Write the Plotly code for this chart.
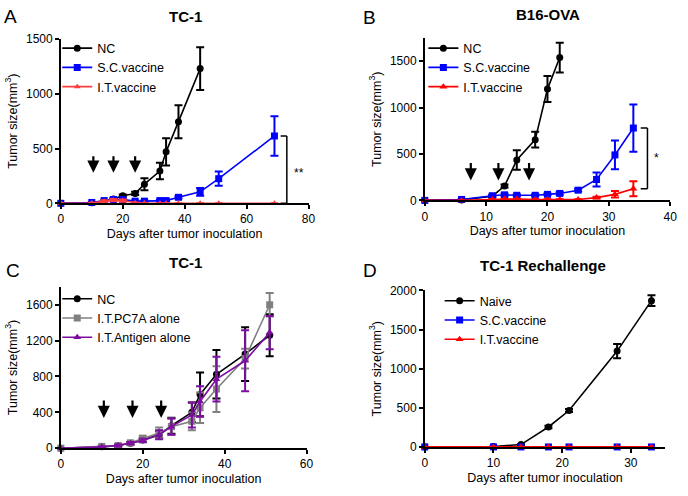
import plotly.graph_objects as go
from plotly.subplots import make_subplots

# ──────────────────────────────────────────────
# Data
# ──────────────────────────────────────────────
# Panel A: TC-1
a_nc_days = [0, 10, 14, 17, 20, 24, 27, 32, 34, 38, 45]
a_nc_vals = [0, 5, 20, 40, 70, 90, 175, 295, 470, 745, 1230]
a_nc_err = [0, 0, 5, 10, 10, 15, 55, 75, 125, 150, 195]
a_days = [0, 10, 14, 17, 20, 24, 27, 32, 34, 38, 45, 51, 69]
a_sc_vals = [0, 8, 25, 35, 35, 20, 20, 25, 25, 55, 105, 225, 615]
a_sc_err = [0, 3, 8, 10, 10, 5, 5, 5, 8, 12, 35, 65, 180]
a_it_vals = [0, 3, 20, 30, 25, 5, 2, 0, 0, 0, 0, 0, 0]
a_it_err = [0, 2, 8, 10, 10, 3, 1, 0, 0, 0, 0, 0, 0]
a_arrow_days = [10.5, 17, 24]

# Panel B: B16-OVA
b_nc_days = [0, 6, 11, 13, 15, 18, 20, 22]
b_nc_vals = [0, 5, 45, 155, 435, 655, 1200, 1540]
b_nc_err = [0, 2, 10, 15, 105, 85, 140, 160]
b_days = [0, 6, 11, 13, 15, 18, 20, 22, 25, 28, 31, 34]
b_sc_vals = [0, 10, 50, 60, 55, 55, 65, 75, 110, 225, 490, 780]
b_sc_err = [0, 3, 10, 15, 10, 10, 10, 15, 15, 75, 155, 255]
b_it_vals = [0, 0, 10, 15, 15, 10, 10, 10, 10, 30, 65, 125]
b_it_err = [0, 0, 3, 3, 3, 3, 3, 3, 3, 10, 35, 80]
b_arrow_days = [7.5, 12, 17]

# Panel C: TC-1 controls
c_days = [0, 10, 14, 17, 20, 24, 27, 32, 34, 38, 45, 51]
c_nc_vals = [0, 15, 30, 55, 90, 150, 250, 400, 600, 825, 1050, 1260]
c_nc_err = [0, 5, 10, 15, 20, 40, 90, 110, 245, 270, 300, 235]
c_pc7a_vals = [0, 20, 30, 60, 110, 170, 240, 300, 450, 660, 1000, 1600]
c_pc7a_err = [0, 8, 10, 15, 30, 60, 90, 100, 170, 255, 110, 130]
c_ag_vals = [0, 15, 30, 55, 85, 150, 240, 370, 520, 770, 975, 1290]
c_ag_err = [0, 5, 10, 15, 20, 50, 90, 140, 170, 250, 340, 185]
c_arrow_days = [10.5, 17.5, 24.5]

# Panel D: TC-1 Rechallenge
d_days = [0, 10, 14, 18, 21, 28, 33]
d_naive_vals = [0, 5, 30, 255, 465, 1225, 1870]
d_naive_err = [0, 2, 5, 15, 20, 90, 70]
d_sc_vals = [0, 0, 0, 0, 0, 0, 0]
d_it_vals = [0, 0, 0, 0, 0, 0, 0]

FONT = "Liberation Sans, Arial, sans-serif"
BLACK = "#000000"
BLUE = "#0000FF"
RED_A = "#FF3B3B"
RED = "#FF0000"
GRAY = "#808080"
PURPLE = "#7D0EA0"

fig = make_subplots(rows=2, cols=2)


def add_series(x, y, err, name, color, symbol, row, col, legend, size=7):
    fig.add_trace(
        go.Scatter(
            x=x,
            y=y,
            name=name,
            mode="lines+markers",
            line=dict(color=color, width=1.6),
            marker=dict(color=color, symbol=symbol, size=size),
            error_y=dict(type="data", array=err, color=color, thickness=2, width=4,
                         visible=err is not None),
            cliponaxis=False,
            legend=legend,
        ),
        row=row,
        col=col,
    )


# A
add_series(a_nc_days, a_nc_vals, a_nc_err, "NC", BLACK, "circle", 1, 1, "legend")
add_series(a_days, a_sc_vals, a_sc_err, "S.C.vaccine", BLUE, "square", 1, 1, "legend")
add_series(a_days, a_it_vals, a_it_err, "I.T.vaccine", RED_A, "triangle-up", 1, 1, "legend", 6)
# B
add_series(b_nc_days, b_nc_vals, b_nc_err, "NC", BLACK, "circle", 1, 2, "legend2")
add_series(b_days, b_sc_vals, b_sc_err, "S.C.vaccine", BLUE, "square", 1, 2, "legend2")
add_series(b_days, b_it_vals, b_it_err, "I.T.vaccine", RED, "triangle-up", 1, 2, "legend2")
# C
add_series(c_days, c_nc_vals, c_nc_err, "NC", BLACK, "circle", 2, 1, "legend3")
add_series(c_days, c_pc7a_vals, c_pc7a_err, "I.T.PC7A alone", GRAY, "square", 2, 1, "legend3")
add_series(c_days, c_ag_vals, c_ag_err, "I.T.Antigen alone", PURPLE, "triangle-up", 2, 1, "legend3")
# D
add_series(d_days, d_naive_vals, d_naive_err, "Naive", BLACK, "circle", 2, 2, "legend4")
add_series(d_days, d_sc_vals, None, "S.C.vaccine", BLUE, "square", 2, 2, "legend4")
add_series(d_days, d_it_vals, None, "I.T.vaccine", RED, "triangle-up", 2, 2, "legend4")

# ──────────────────────────────────────────────
# Axes
# ──────────────────────────────────────────────
axis_style = dict(
    showline=True, linecolor="black", linewidth=1.5, ticks="outside", ticklen=4,
    tickwidth=1.5, tickcolor="black", showgrid=False, zeroline=False,
    tickfont=dict(family=FONT, size=12, color="black"),
)
xt = dict(text="Days after tumor inoculation", font=dict(family=FONT, size=12.5, color="black"), standoff=4)
yt = dict(text="Tumor size(mm<sup>3</sup>)", font=dict(family=FONT, size=12.5, color="black"), standoff=6)

fig.update_xaxes(axis_style)
fig.update_yaxes(axis_style)

fig.update_layout(
    xaxis=dict(domain=[0.0853, 0.4506], range=[0, 80], tickvals=[0, 20, 40, 60, 80], title=xt),
    yaxis=dict(domain=[0.5927, 0.9335], range=[0, 1500], tickvals=[0, 500, 1000, 1500], title=yt),
    xaxis2=dict(domain=[0.6221, 0.9840], range=[0, 40], tickvals=[0, 10, 20, 30, 40], title=xt),
    yaxis2=dict(domain=[0.5988, 0.9355], range=[0, 1750], tickvals=[0, 500, 1000, 1500], title=yt),
    xaxis3=dict(domain=[0.0853, 0.4477], range=[0, 60], tickvals=[0, 20, 40, 60], title=xt),
    yaxis3=dict(domain=[0.0847, 0.4194], range=[0, 1800], tickvals=[0, 400, 800, 1200, 1600], title=yt),
    xaxis4=dict(domain=[0.6221, 0.9767], range=[0, 35], tickvals=[0, 10, 20, 30], title=xt),
    yaxis4=dict(domain=[0.0873, 0.4119], range=[0, 2000], tickvals=[0, 500, 1000, 1500, 2000], title=yt),
)

# ──────────────────────────────────────────────
# Legends
# ──────────────────────────────────────────────
leg = dict(font=dict(family=FONT, size=12.5, color="black"), bgcolor="rgba(0,0,0,0)",
           itemwidth=30, tracegroupgap=0, xanchor="left", yanchor="top")
fig.update_layout(
    showlegend=True,
    legend=dict(leg, x=0.08, y=0.945),
    legend2=dict(leg, x=0.62, y=0.945),
    legend3=dict(leg, x=0.08, y=0.425),
    legend4=dict(leg, x=0.644, y=0.421),
)

# ──────────────────────────────────────────────
# Titles, panel letters, arrows, brackets
# ──────────────────────────────────────────────
annotations = []
titles = [("TC-1", 185, 10), ("B16-OVA", 553, 8), ("TC-1", 185, 263), ("TC-1 Rechallenge", 548, 266)]
for text, px, py in titles:
    annotations.append(dict(text=f"<b>{text}</b>", x=px / 688, y=1 - py / 496, xref="paper", yref="paper",
                            xanchor="center", yanchor="middle", showarrow=False,
                            font=dict(family=FONT, size=15, color="black")))
letters = [("A", 8, 10), ("B", 372, 11), ("C", 10, 271), ("D", 372, 271)]
for text, px, py in letters:
    annotations.append(dict(text=text, x=px / 688, y=1 - py / 496, xref="paper", yref="paper",
                            xanchor="center", yanchor="middle", showarrow=False,
                            font=dict(family=FONT, size=19, color="black")))

arrow_sets = [(a_arrow_days, 280, "x", "y", -18), (b_arrow_days, 215, "x2", "y2", -19),
              (c_arrow_days, 338, "x3", "y3", -19)]
for days, tip, xr, yr, ay in arrow_sets:
    for d in days:
        annotations.append(dict(x=d, y=tip, xref=xr, yref=yr, ax=0, ay=ay, showarrow=True,
                                arrowhead=2, arrowsize=1.1, arrowwidth=2.2, arrowcolor="black", text=""))

annotations.append(dict(text="**", x=77, y=(a_sc_vals[-1] + a_it_vals[-1]) / 2 - 30, xref="x", yref="y",
                        showarrow=False, font=dict(family=FONT, size=12, color="black")))
annotations.append(dict(text="*", x=37.8, y=(b_sc_vals[-1] + b_it_vals[-1]) / 2, xref="x2", yref="y2",
                        showarrow=False, font=dict(family=FONT, size=12, color="black")))
fig.update_layout(annotations=annotations)

shapes = []
for xr, yr, xb, xl, top, bot in [("x", "y", 73, 71, a_sc_vals[-1], a_it_vals[-1]),
                                  ("x2", "y2", 36.3, 35.2, b_sc_vals[-1], b_it_vals[-1])]:
    line = dict(color="black", width=1.5)
    shapes.append(dict(type="line", xref=xr, yref=yr, x0=xb, x1=xb, y0=bot, y1=top, line=line))
    shapes.append(dict(type="line", xref=xr, yref=yr, x0=xl, x1=xb, y0=top, y1=top, line=line))
    shapes.append(dict(type="line", xref=xr, yref=yr, x0=xl, x1=xb, y0=bot, y1=bot, line=line))
fig.update_layout(shapes=shapes)

fig.update_layout(
    width=688, height=496, autosize=False,
    margin=dict(l=0, r=0, t=0, b=0),
    plot_bgcolor="white", paper_bgcolor="white",
    font=dict(family=FONT, color="black"),
)

# drop the default page margin and scrollbars so the figure fills the window exactly
fig.write_html("out.html", config={"displayModeBar": False},
               post_script="document.body.style.margin='0';document.body.style.overflow='hidden';")
